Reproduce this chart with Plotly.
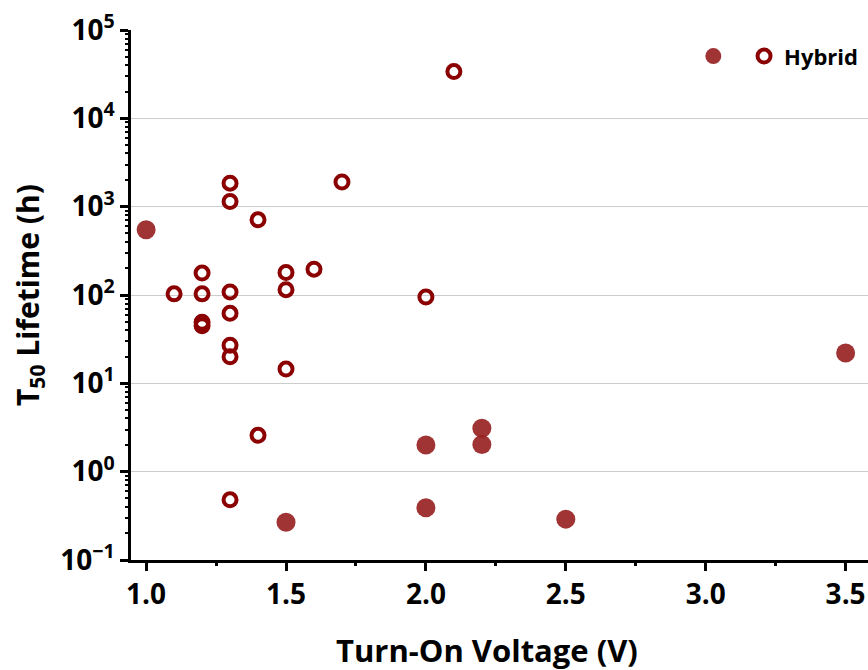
import plotly.graph_objects as go

# Filled (no label) series
filled_v = [1.0, 1.5, 2.0, 2.0, 2.2, 2.2, 2.5, 3.5]
filled_t = [547, 0.267, 2.0, 0.39, 3.1, 2.03, 0.29, 22]

# Hybrid (open) series
hybrid_v = [1.1, 1.2, 1.2, 1.2, 1.2, 1.3, 1.3, 1.3, 1.3, 1.3, 1.3, 1.3,
            1.4, 1.4, 1.5, 1.5, 1.5, 1.6, 1.7, 2.0, 2.1]
hybrid_t = [103, 177, 103, 49, 45, 1845, 1143, 108, 62, 27, 20, 0.48,
            710, 2.58, 180, 115, 14.5, 196, 1900, 95, 33800]

x_ticks = [1.0, 1.5, 2.0, 2.5, 3.0, 3.5]
x_ticklabels = ["1.0", "1.5", "2.0", "2.5", "3.0", "3.5"]
x_minor = [1.25, 1.75, 2.25, 2.75, 3.25]
y_ticks = [0.1, 1, 10, 100, 1000, 10000, 100000]
y_ticklabels = ["10<sup>−1</sup>", "10<sup>0</sup>", "10<sup>1</sup>", "10<sup>2</sup>",
                "10<sup>3</sup>", "10<sup>4</sup>", "10<sup>5</sup>"]
y_minor = [m * d for d in y_ticks[:-1] for m in range(2, 10)]

FONT = "Open Sans"

fig = go.Figure()
fig.add_trace(go.Scatter(
    x=filled_v, y=filled_t, mode="markers", name=" ",
    marker=dict(symbol="circle", size=19, color="rgba(150,30,30,0.9)", line=dict(width=0)),
))
fig.add_trace(go.Scatter(
    x=hybrid_v, y=hybrid_t, mode="markers", name="Hybrid",
    marker=dict(symbol="circle-open", size=13, color="#8b0000", line=dict(width=4, color="#8b0000")),
))
# invisible helper trace so the minor-tick axes are drawn
fig.add_trace(go.Scatter(x=[filled_v[0]], y=[filled_t[0]], xaxis="x2", yaxis="y2", mode="markers",
                         marker=dict(opacity=0), showlegend=False, hoverinfo="skip"))

fig.update_layout(
    template="none",
    width=868, height=670,
    margin=dict(l=131, r=0, t=30, b=110),
    paper_bgcolor="white", plot_bgcolor="white",
    font=dict(family=FONT, color="black"),
    showlegend=True,
    legend=dict(orientation="h", x=0.763, y=0.99, xanchor="left", yanchor="top",
                font=dict(family=FONT, size=22, weight="bold"),
                bgcolor="rgba(0,0,0,0)", itemsizing="trace", tracegroupgap=0),
    xaxis=dict(
        range=[0.946, 3.58], tickmode="array", tickvals=x_ticks, ticktext=x_ticklabels,
        ticks="outside", ticklen=8, tickwidth=2.5, tickcolor="#000000",
        showline=True, linecolor="black", linewidth=2.5,
        showgrid=False, zeroline=False,
        tickfont=dict(family=FONT, size=28, weight="bold"),
    ),
    xaxis2=dict(
        range=[0.946, 3.58], overlaying="x", side="bottom", anchor="y",
        tickmode="array", tickvals=x_minor, showticklabels=False,
        ticks="outside", ticklen=5, tickwidth=2.5, tickcolor="#000000",
        showline=False, showgrid=False, zeroline=False,
    ),
    yaxis=dict(
        type="log", range=[-1, 5], tickmode="array", tickvals=y_ticks, ticktext=y_ticklabels,
        ticks="outside", ticklen=8, tickwidth=2.5, tickcolor="#000000",
        showline=True, linecolor="black", linewidth=2.5,
        showgrid=True, gridcolor="#cccccc", gridwidth=1.2, zeroline=False,
        tickfont=dict(family=FONT, size=28, weight="bold"),
    ),
    yaxis2=dict(
        type="log", range=[-1, 5], overlaying="y", side="left", anchor="x",
        tickmode="array", tickvals=y_minor, showticklabels=False,
        ticks="outside", ticklen=5, tickwidth=2, tickcolor="#000000",
        showline=False, showgrid=False, zeroline=False,
    ),
    annotations=[
        dict(text="Turn-On Voltage (V)", xref="paper", yref="paper", x=0.483, y=0,
             yshift=-90, xanchor="center", yanchor="middle", showarrow=False,
             font=dict(family=FONT, size=31, weight="bold")),
        dict(text="T<sub>50</sub> Lifetime (h)", xref="paper", yref="paper", x=0, y=0.5,
             xshift=-102, xanchor="center", yanchor="middle", textangle=-90, showarrow=False,
             font=dict(family=FONT, size=30, weight="bold")),
    ],
)

fig.write_html("out.html")
